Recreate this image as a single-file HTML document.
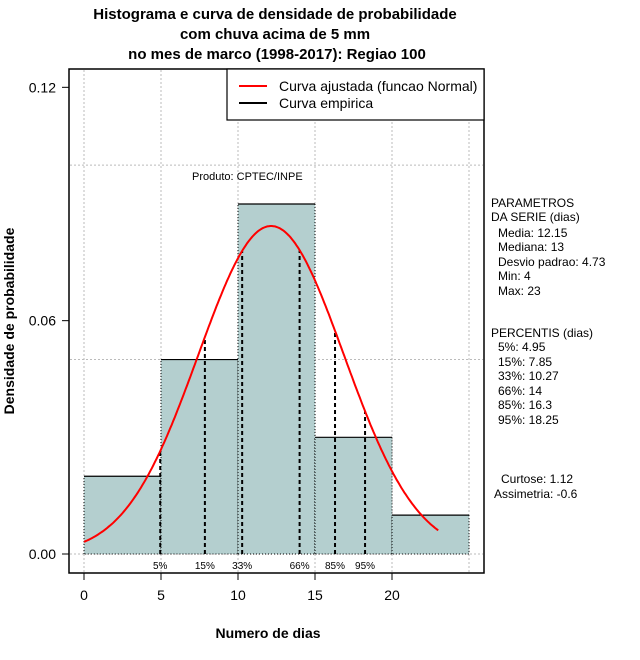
<!DOCTYPE html>
<html><head><meta charset="utf-8"><style>
body{margin:0;background:#fff;}
svg{display:block;font-family:"Liberation Sans",sans-serif;}
</style></head><body>
<svg id="chart" width="640" height="660" viewBox="0 0 640 660">
<rect width="640" height="660" fill="#fff"/>
<g id="grid"></g>
<g id="bars"></g>
<g id="pcts"></g>
<g id="curve"></g>
<rect x="69" y="69" width="415" height="504" fill="none" stroke="#000" stroke-width="1.5"/>
<g id="axes"></g>
<text x="275" y="19" text-anchor="middle" font-size="15" font-weight="bold">Histograma e curva de densidade de probabilidade</text>
<text x="275" y="39" text-anchor="middle" font-size="15" font-weight="bold">com chuva acima de 5 mm</text>
<text x="277" y="59" text-anchor="middle" font-size="15" font-weight="bold">no mes de marco (1998-2017): Regiao 100</text>
<text x="268" y="638" text-anchor="middle" font-size="14" font-weight="bold">Numero de dias</text>
<text transform="translate(14,321) rotate(-90)" text-anchor="middle" font-size="14" font-weight="bold">Densidade de probabilidade</text>
<g>
<rect x="227" y="69" width="257" height="51" fill="#fff" stroke="#000" stroke-width="1.2"/>
<line x1="239" y1="86" x2="267" y2="86" stroke="#f00" stroke-width="2"/>
<text x="279" y="91" font-size="14">Curva ajustada (funcao Normal)</text>
<line x1="239" y1="103" x2="267" y2="103" stroke="#000" stroke-width="2"/>
<text x="279" y="108" font-size="14">Curva empirica</text>
</g>
<text x="192" y="180" font-size="11">Produto: CPTEC/INPE</text>
<g font-size="12">
<text x="491" y="207">PARAMETROS</text>
<text x="491" y="221">DA SERIE (dias)</text>
<text x="498" y="237">Media: 12.15</text>
<text x="498" y="251">Mediana: 13</text>
<text x="498" y="266">Desvio padrao: 4.73</text>
<text x="498" y="280">Min: 4</text>
<text x="498" y="295">Max: 23</text>
<text x="491" y="337">PERCENTIS (dias)</text>
<text x="498" y="351">5%: 4.95</text>
<text x="498" y="366">15%: 7.85</text>
<text x="498" y="380">33%: 10.27</text>
<text x="498" y="395">66%: 14</text>
<text x="498" y="409">85%: 16.3</text>
<text x="498" y="424">95%: 18.25</text>
<text x="501" y="483">Curtose: 1.12</text>
<text x="494" y="498">Assimetria: -0.6</text>
</g>
</svg>
<script>
const binEdges=[0,5,10,15,20,25];
const binDensity=[0.02,0.05,0.09,0.03,0.01];
const pctValues=[4.95,7.85,10.27,14,16.3,18.25];
const pctLabels=["5%","15%","33%","66%","85%","95%"];
const fitParams=[12.15,4.73];
const curveRange=[0,23];
const xTicks=[0,5,10,15,20];
const yTicks=[0,0.06,0.12];
const yTickLabels=["0.00","0.06","0.12"];
const xGrid=[0,5,10,15,20,25];
const yGrid=[0,0.05,0.1];
const NS="http://www.w3.org/2000/svg";
const X=v=>84+v*15.4;
const Y=v=>554-v*3889;
function mk(tag,attrs,parent,txt){const e=document.createElementNS(NS,tag);for(const k in attrs)e.setAttribute(k,attrs[k]);if(txt!=null)e.textContent=txt;document.getElementById(parent).appendChild(e);return e;}
const dens=x=>Math.exp(-0.5*((x-fitParams[0])/fitParams[1])**2)/(fitParams[1]*Math.sqrt(2*Math.PI));
xGrid.forEach(v=>{const e=mk('line',{x1:X(v),x2:X(v),y1:70,y2:572,stroke:'#bbb','stroke-dasharray':'2,2'},'grid');

});
yGrid.forEach(v=>{const e=mk('line',{x1:70,x2:483,y1:Y(v),y2:Y(v),stroke:'#bbb','stroke-dasharray':'2,2'},'grid');

});
binDensity.forEach((d,i)=>{const x0=X(binEdges[i]),x1=X(binEdges[i+1]),y=Y(d);
const r=mk('rect',{x:x0,y:y,width:x1-x0,height:Y(0)-y,fill:'#b4cfcf'},'bars');


mk('path',{d:`M${x0},${Y(0)}V${y}M${x1},${y}V${Y(0)}H${x0}`,fill:'none',stroke:'#000','stroke-dasharray':'1,2'},'bars');
mk('line',{x1:x0,x2:x1,y1:y,y2:y,stroke:'#000','stroke-width':1.2},'bars');});
pctValues.forEach((p,i)=>{const l=mk('line',{x1:X(p),x2:X(p),y1:Y(0),y2:Y(dens(p)),stroke:'#000','stroke-width':2,'stroke-dasharray':'4,3'},'pcts');


const t=mk('text',{x:X(p),y:569,'text-anchor':'middle','font-size':10},'pcts',pctLabels[i]);

});
let d='';for(let x=curveRange[0];x<=curveRange[1]+1e-9;x+=0.1){d+=(d?'L':'M')+X(x).toFixed(1)+','+Y(dens(x)).toFixed(1);}
const c=mk('path',{d:d,fill:'none',stroke:'#f00','stroke-width':2},'curve');


mk('line',{x1:X(0),x2:X(20),y1:573,y2:573,stroke:'#000'},'axes');
xTicks.forEach(v=>{mk('line',{x1:X(v),x2:X(v),y1:573,y2:580,stroke:'#000'},'axes');
const t=mk('text',{x:X(v),y:600,'text-anchor':'middle','font-size':14},'axes',String(v));

});
yTicks.forEach((v,i)=>{mk('line',{x1:62,x2:69,y1:Y(v),y2:Y(v),stroke:'#000'},'axes');
const t=mk('text',{x:56,y:Y(v)+5,'text-anchor':'end','font-size':14},'axes',yTickLabels[i]);

});
</script>
</body></html>
